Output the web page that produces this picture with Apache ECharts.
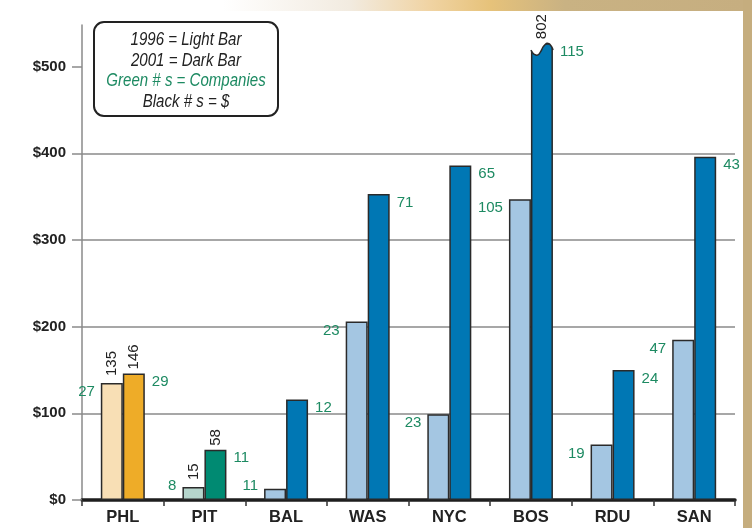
<!DOCTYPE html>
<html>
<head>
<meta charset="utf-8">
<script src="https://cdn.jsdelivr.net/npm/echarts@6/dist/echarts.min.js"></script>
<style>
html,body{margin:0;padding:0;background:#fff;}
#chart{width:752px;height:528px;}
</style>
</head>
<body>
<div id="chart"></div>
<script>
// ---------------- DATA ----------------
const categories = ['PHL', 'PIT', 'BAL', 'WAS', 'NYC', 'BOS', 'RDU', 'SAN'];
const values1996 = [135, 15, 13, 206, 99, 347, 64, 185];      // $ (light bars)
const values2001 = [146, 58, 116, 353, 386, 802, 150, 396];   // $ (dark bars)
const companies1996 = [27, 8, 11, 23, 23, 105, 19, 47];       // green numbers
const companies2001 = [29, 11, 12, 71, 65, 115, 24, 43];
const dollarLabels1996 = [135, 15, null, null, null, null, null, null]; // black numbers
const dollarLabels2001 = [146, 58, null, null, null, 802, null, null];
const yTickValues = [0, 100, 200, 300, 400, 500];
const legendLines = ['1996 = Light Bar', '2001 = Dark Bar', 'Green # s = Companies', 'Black # s = $'];
const Y_MAX = 548;
const BREAK_AT = 527; // bars beyond this value are drawn broken at this height

// ---------------- STYLE ----------------
const lightColors = ['#f8dfb5', '#b5d5cc', '#a4c6e2', '#a4c6e2', '#a4c6e2', '#a4c6e2', '#a4c6e2', '#a4c6e2'];
const darkColors  = ['#eeac28', '#008a72', '#0077b4', '#0077b4', '#0077b4', '#0077b4', '#0077b4', '#0077b4'];
const GREEN = '#1d8a62';
const INK = '#222';
const FONT = '"Liberation Sans", Arial, Helvetica, sans-serif';
const GRID = {left: 82, right: 17, top: 25, bottom: 28};
const BAR_W = 22;

const pxPerUnit = (528 - GRID.top - GRID.bottom) / Y_MAX;

const chart = echarts.init(document.getElementById('chart'), null, {renderer: 'canvas'});

function capped(v) { return Math.min(v, BREAK_AT); }

const lightData = values1996.map((v, i) => {
  const h = capped(v) * pxPerUnit;
  const dy = Math.min(9, h - 14);
  return {
    value: capped(v),
    itemStyle: {color: lightColors[i]},
    label: {position: [-6, dy]}
  };
});
const darkData = values2001.map((v, i) => ({
  value: capped(v),
  itemStyle: {color: darkColors[i]}
}));

const baseLabelText = {fontFamily: FONT, fontSize: 15};

const option = {
  animation: false,
  backgroundColor: '#ffffff',
  grid: {left: GRID.left, right: GRID.right, top: GRID.top, bottom: GRID.bottom, containLabel: false},
  xAxis: [{
    type: 'category',
    data: categories,
    axisLine: {show: true, onZero: true, lineStyle: {color: '#1e1e1e', width: 3.5}},
    axisTick: {show: true, length: 6, lineStyle: {color: '#333', width: 1.5}},
    axisLabel: {color: INK, fontFamily: FONT, fontWeight: 'bold', fontSize: 16.5, margin: 9},
    splitLine: {show: false}
  }, {
    type: 'category',
    data: categories,
    show: false
  }],
  yAxis: {
    type: 'value',
    min: 0,
    max: Y_MAX,
    interval: 100,
    axisLine: {show: true, lineStyle: {color: '#8a8a8a', width: 1.5}},
    axisTick: {show: true, length: 10, customValues: yTickValues, lineStyle: {color: '#8a8a8a', width: 1.5}},
    axisLabel: {
      customValues: yTickValues,
      color: INK, fontFamily: FONT, fontWeight: 'bold', fontSize: 15, margin: 16,
      formatter: v => (v % 100 === 0 && v <= 500) ? '$' + v : ''
    },
    splitLine: {show: true, showMaxLine: false, showMinLine: false, lineStyle: {color: '#8a8a8a', width: 1.5}}
  },
  series: [{
    name: '1996',
    type: 'bar',
    xAxisIndex: 0,
    barWidth: BAR_W,
    barGap: 0,
    data: lightData,
    itemStyle: {borderColor: '#2a2a2a', borderWidth: 1.5},
    label: {
      show: true,
      position: [-6, 9],
      align: 'right',
      verticalAlign: 'middle',
      color: GREEN,
      ...baseLabelText,
      formatter: p => String(companies1996[p.dataIndex])
    }
  }, {
    name: '2001',
    type: 'bar',
    xAxisIndex: 0,
    barWidth: BAR_W,
    barGap: 0,
    data: darkData,
    itemStyle: {borderColor: '#2a2a2a', borderWidth: 1.5},
    label: {
      show: true,
      position: ['100%', 8.5],
      offset: [7, 0],
      align: 'left',
      verticalAlign: 'middle',
      color: GREEN,
      ...baseLabelText,
      formatter: p => String(companies2001[p.dataIndex])
    }
  }, {
    name: '1996 $',
    type: 'bar',
    xAxisIndex: 1,
    barWidth: BAR_W,
    barGap: 0,
    silent: true,
    z: 5,
    data: values1996.map(capped),
    itemStyle: {color: 'rgba(0,0,0,0)'},
    label: {
      show: true,
      position: 'top',
      distance: 7,
      rotate: 90,
      align: 'left',
      verticalAlign: 'middle',
      color: INK,
      ...baseLabelText,
      formatter: p => dollarLabels1996[p.dataIndex] == null ? '' : String(dollarLabels1996[p.dataIndex])
    }
  }, {
    name: '2001 $',
    type: 'bar',
    xAxisIndex: 1,
    barWidth: BAR_W,
    barGap: 0,
    silent: true,
    z: 5,
    data: values2001.map(capped),
    itemStyle: {color: 'rgba(0,0,0,0)'},
    label: {
      show: true,
      position: 'top',
      distance: 4,
      rotate: 90,
      align: 'left',
      verticalAlign: 'middle',
      color: INK,
      ...baseLabelText,
      formatter: p => dollarLabels2001[p.dataIndex] == null ? '' : String(dollarLabels2001[p.dataIndex])
    }
  }],
  graphic: [{
    id: 'topband',
    type: 'rect',
    z: 0,
    silent: true,
    shape: {x: 0, y: 0, width: 743, height: 11},
    style: {
      fill: new echarts.graphic.LinearGradient(0, 0, 1, 0, [
        {offset: 0, color: '#ffffff'},
        {offset: 0.30, color: '#ffffff'},
        {offset: 0.47, color: '#f2ebe0'},
        {offset: 0.58, color: '#f0d3a2'},
        {offset: 0.66, color: '#e6c27a'},
        {offset: 0.76, color: '#c9b283'},
        {offset: 1, color: '#c6ae80'}
      ])
    }
  }, {
    id: 'rightband',
    type: 'rect',
    z: 0,
    silent: true,
    shape: {x: 743, y: 0, width: 9, height: 528},
    style: {fill: '#c5ad7e'}
  }, {
    id: 'legendbox',
    type: 'group',
    z: 20,
    silent: true,
    children: [{
      type: 'rect',
      shape: {x: 94, y: 22, width: 184, height: 94, r: 10},
      style: {fill: '#ffffff', stroke: '#222', lineWidth: 2}
    }].concat(legendLines.map((t, i) => ({
      type: 'text',
      x: 186,
      y: 40.5 + i * 20.5,
      scaleX: 0.86,
      style: {
        text: t,
        fill: i === 2 ? GREEN : INK,
        font: 'italic 17.5px ' + FONT,
        textAlign: 'center',
        textVerticalAlign: 'middle'
      }
    })))
  }]
};

chart.setOption(option);

// Draw the "broken" tops on bars whose value exceeds the break height
function addBreaks() {
  const extra = [];
  values2001.forEach((v, i) => {
    if (v <= BREAK_AT) return;
    let x0, yt, w;
    try {
      const lay = chart.getModel().getSeriesByIndex(1).getData().getItemLayout(i);
      x0 = Math.min(lay.x, lay.x + lay.width);
      w = Math.abs(lay.width);
      yt = Math.min(lay.y, lay.y + lay.height);
    } catch (e) {
      const p = chart.convertToPixel({xAxisIndex: 0, yAxisIndex: 0}, [i, BREAK_AT]);
      x0 = p[0]; w = BAR_W; yt = p[1];
    }
    const s = w / 22;
    const rel = [[0,7],[2,10],[4,11.5],[6,12],[8,11],[10,8],[12,4],[14,1.5],[16,0],[18,0.5],[20,2.5],[21.5,5],[22,7]];
    const pts = rel.map(r => [x0 + r[0] * s, yt + r[1]]);
    const poly = [[x0 - 1.5, yt + 7]].concat(pts, [[x0 + w + 1.5, yt + 7], [x0 + w + 1.5, yt - 2], [x0 - 1.5, yt - 2]]);
    extra.push({
      id: 'breakfill' + i, type: 'polygon', z: 30, silent: true,
      shape: {points: poly}, style: {fill: '#ffffff'}
    });
    extra.push({
      id: 'breakline' + i, type: 'polyline', z: 31, silent: true,
      shape: {points: pts, smooth: 0.3}, style: {stroke: '#2a2a2a', lineWidth: 1.5, fill: null}
    });
  });
  if (extra.length) chart.setOption({graphic: extra});
}
addBreaks();
</script>
</body>
</html>
